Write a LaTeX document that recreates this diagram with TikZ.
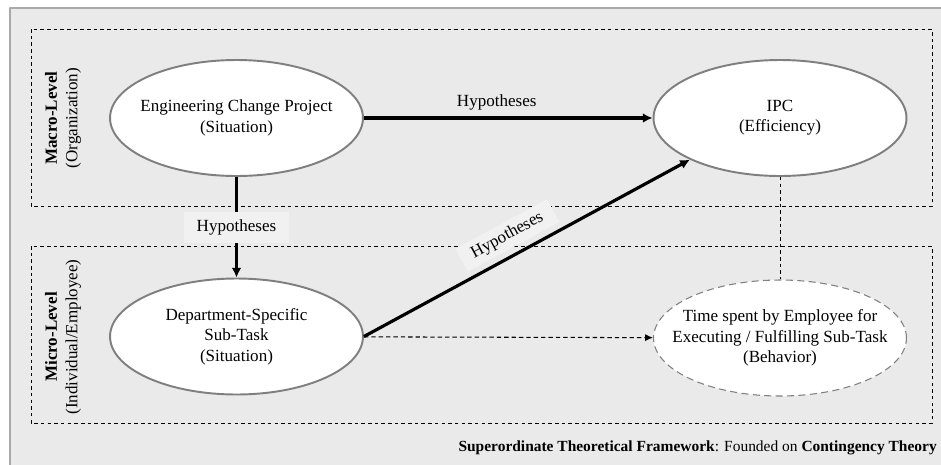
\documentclass[tikz,border=0pt]{standalone}
\usepackage{fontspec}
\setmainfont{Liberation Serif}
\usetikzlibrary{shapes.geometric,arrows.meta}
\definecolor{bggray}{HTML}{EAEAEA}
\definecolor{lblgray}{HTML}{F1F1F1}
\definecolor{rimgray}{HTML}{A9A9A9}
\definecolor{ovalgray}{HTML}{7F7F7F}
\tikzset{
	oval/.style={ellipse,draw=ovalgray,line width=1.1pt,fill=white,align=center,minimum width=5.06cm,minimum height=2.32cm,inner xsep=-0.45cm,inner ysep=0pt},
	ovaldash/.style={oval,draw=ovalgray,line width=0.6pt,dash pattern=on 4pt off 2.5pt},
	levelbox/.style={draw=black,line width=0.55pt,dash pattern=on 2pt off 1.8pt},
	hypo/.style={-{Latex[length=5.5pt,width=5.5pt]},line width=1.8pt},
	hypolbl/.style={fill=lblgray,inner xsep=7pt,inner ysep=4.5pt}
}
\begin{document}
\begin{tikzpicture}[x=0.02cm,y=-0.02cm,line join=round,font=\fontsize{9.7}{11.6}\selectfont]
		\useasboundingbox (0,0) rectangle (941,464);
		\draw[rimgray,fill=bggray,line width=1.7pt] (10,8) rectangle (960,480);
		\draw[levelbox] (31,29) rectangle (932,206);
		\draw[levelbox] (31,246) rectangle (932,423);
		\node[rotate=90,align=center] (macro) at (63,118) {\textbf{Macro-Level}\\(Organization)};
		\node[rotate=90,align=center] (micro) at (63,337) {\textbf{Micro-Level}\\(Individual/Employee)};
		\node[oval] (ecp) at (236.5,118) {Engineering Change Project\\(Situation)};
		\node[oval] (ipc) at (780,118) {IPC\\(Efficiency)};
		\node[oval] (sub) at (236.5,336.5) {Department-Specific\\Sub-Task\\(Situation)};
		\node[ovaldash] (time) at (780,338) {Time spent by Employee for\\Executing / Fulfilling Sub-Task\\(Behavior)};
		\draw[hypo] (ecp) -- (ipc) node[pos=0.46,above]{Hypotheses};
		\draw[hypo] (ecp) -- (sub) node[midway,hypolbl]{Hypotheses};
		\draw[line width=0.55pt,dash pattern=on 2pt off 1.8pt] (ipc) -- (time);
		\draw[-{Latex[length=4.5pt,width=4pt]},line width=0.6pt,dash pattern=on 2.5pt off 1.7pt] (sub) -- (time);
		\path (sub.east) -- (ipc.south west) node[pos=0.47,sloped,above=4pt,hypolbl,inner ysep=3pt] (diaglbl) {Hypotheses};
		\draw[hypo] (sub.east) -- (ipc.south west);
		\node[anchor=east,font=\fontsize{8.8}{10}\selectfont] (frame) at (943,448) {\textbf{Superordinate Theoretical Framework}: Founded on \textbf{Contingency Theory}};
\end{tikzpicture}
\end{document}
